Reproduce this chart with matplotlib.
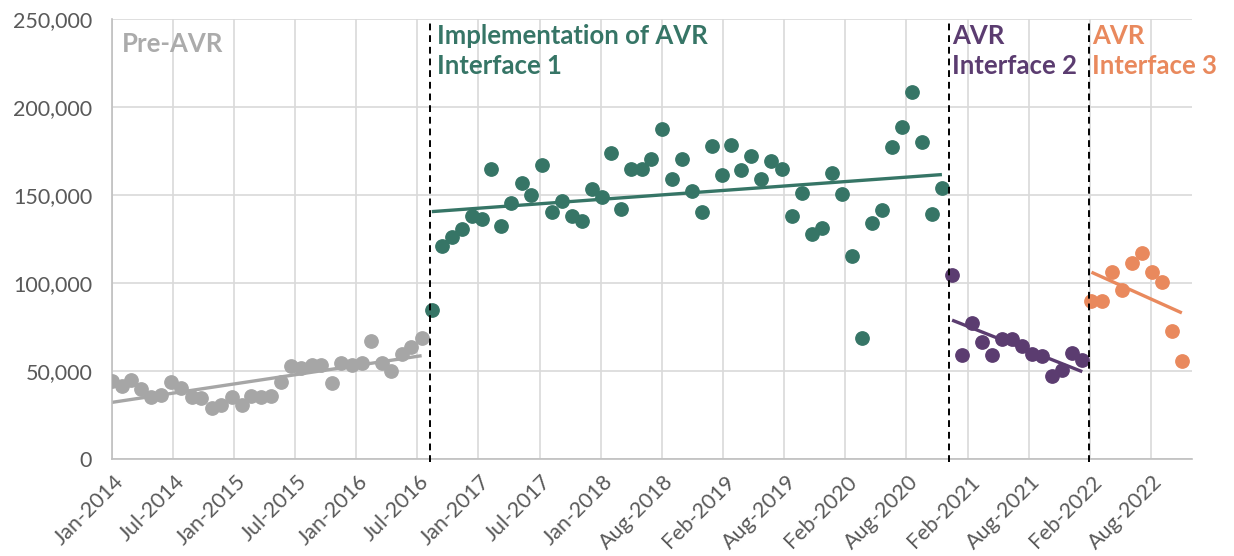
import matplotlib.pyplot as plt
import matplotlib.dates as mdates
from matplotlib.ticker import FuncFormatter
from matplotlib.transforms import ScaledTranslation
import numpy as np
import pandas as pd

plt.rcParams["font.family"] = ["Lato", "DejaVu Sans"]

# monthly counts per period
pre_start = "2014-01-01"
pre_vals = [44400, 41600, 44800, 39700, 35500, 36300, 43500, 40600, 35500, 34900,
            28900, 30800, 35300, 30600, 35700, 35500, 35700, 43900, 52600, 51800,
            53400, 53500, 43300, 54300, 53500, 54300, 67200, 54300, 50100, 59400,
            63800, 68700]
if1_start = "2016-09-01"
if1_vals = [84900, 120900, 125900, 130400, 138000, 136100, 164600, 132300, 145200, 157000,
            149800, 166900, 140300, 146800, 138000, 135000, 153600, 149000, 174100, 142200,
            164600, 164600, 170300, 187400, 158900, 170700, 152100, 140300, 177700, 161500,
            178600, 164200, 172200, 159300, 169500, 164800, 138000, 150900, 127700, 131200,
            162700, 150500, 115600, 68700, 134200, 141400, 177500, 188500, 208600, 180100,
            139100, 153900]
if2_start = "2021-01-01"
if2_vals = [104600, 59100, 77300, 66600, 59100, 68200, 68200, 64000, 59600, 58300,
            47300, 50700, 60500, 56000]
if3_start = "2022-03-01"
if3_vals = [90000, 90000, 106100, 96200, 111600, 116900, 106100, 100400, 72500, 55800]

periods = ["Pre-AVR", "Implementation of AVR\nInterface 1", "AVR\nInterface 2", "AVR\nInterface 3"]
colors = ["#A6A6A6", "#367566", "#5B3C70", "#E9895D"]
label_colors = ["#ABABAB", "#367566", "#5B3C70", "#E9895D"]
label_x = ["2014-01-31", "2016-09-18", "2020-12-31", "2022-03-02"]
label_y = [242500, 247000, 247000, 247000]
cutoffs = ["2016-08-26", "2020-12-23", "2022-02-21"]

fig = plt.figure(figsize=(12.34, 5.56), dpi=100)
ax = fig.add_axes([0.0905, 0.1745, 0.8755, 0.7913])

series = [(pre_start, pre_vals), (if1_start, if1_vals), (if2_start, if2_vals), (if3_start, if3_vals)]
for (start, vals), c in zip(series, colors):
    dates = pd.date_range(start, periods=len(vals), freq="MS")
    ax.plot(dates, vals, "o", color=c, markersize=9.6, zorder=3)
    # linear trendline over the period, like Excel's
    idx = np.arange(len(vals))
    slope, icpt = np.polyfit(idx, vals, 1)
    ends = np.array([0, len(vals) - 1])
    ax.plot(dates[ends], slope * ends + icpt, color=c, lw=2.4, solid_capstyle="butt", zorder=2)

for d in cutoffs:
    ax.axvline(pd.Timestamp(d), color="black", ls=(0, (3.5, 2.5)), lw=1.4, zorder=4,
               ymin=-0.006, ymax=1.0, clip_on=False)

for txt, x, y, c in zip(periods, label_x, label_y, label_colors):
    ax.text(pd.Timestamp(x), y, txt, color=c, fontsize=18.5, fontweight="bold",
            va="top", ha="left", linespacing=1.3)

ax.set_xlim(pd.Timestamp("2014-01-01"), pd.Timestamp("2023-01-01"))
ax.set_ylim(0, 250000)
ticks = [pd.Timestamp("2014-01-01") + pd.Timedelta(days=186 * k) for k in range(18)]
ax.set_xticks(ticks)
ax.xaxis.set_major_formatter(mdates.DateFormatter("%b-%Y"))
ax.set_yticks(range(0, 250001, 50000))
ax.yaxis.set_major_formatter(FuncFormatter(lambda v, _: f"{int(v):,}"))
ax.tick_params(axis="both", length=0, labelsize=15.5, labelcolor="#595959")
ax.tick_params(axis="x", pad=9)
shift = ScaledTranslation(0.015, 0, fig.dpi_scale_trans)
for lab in ax.get_xticklabels():
    lab.set_rotation(45)
    lab.set_ha("right")
    lab.set_rotation_mode("anchor")
    lab.set_transform(lab.get_transform() + shift)
ax.tick_params(axis="y", pad=14)

ax.grid(True, color="#D9D9D9", lw=1.2)
ax.set_axisbelow(True)
for s in ["top", "right"]:
    ax.spines[s].set_visible(False)
for s in ["left", "bottom"]:
    ax.spines[s].set_color("#BFBFBF")
    ax.spines[s].set_linewidth(1.2)

fig.savefig("out.png", dpi=100)
